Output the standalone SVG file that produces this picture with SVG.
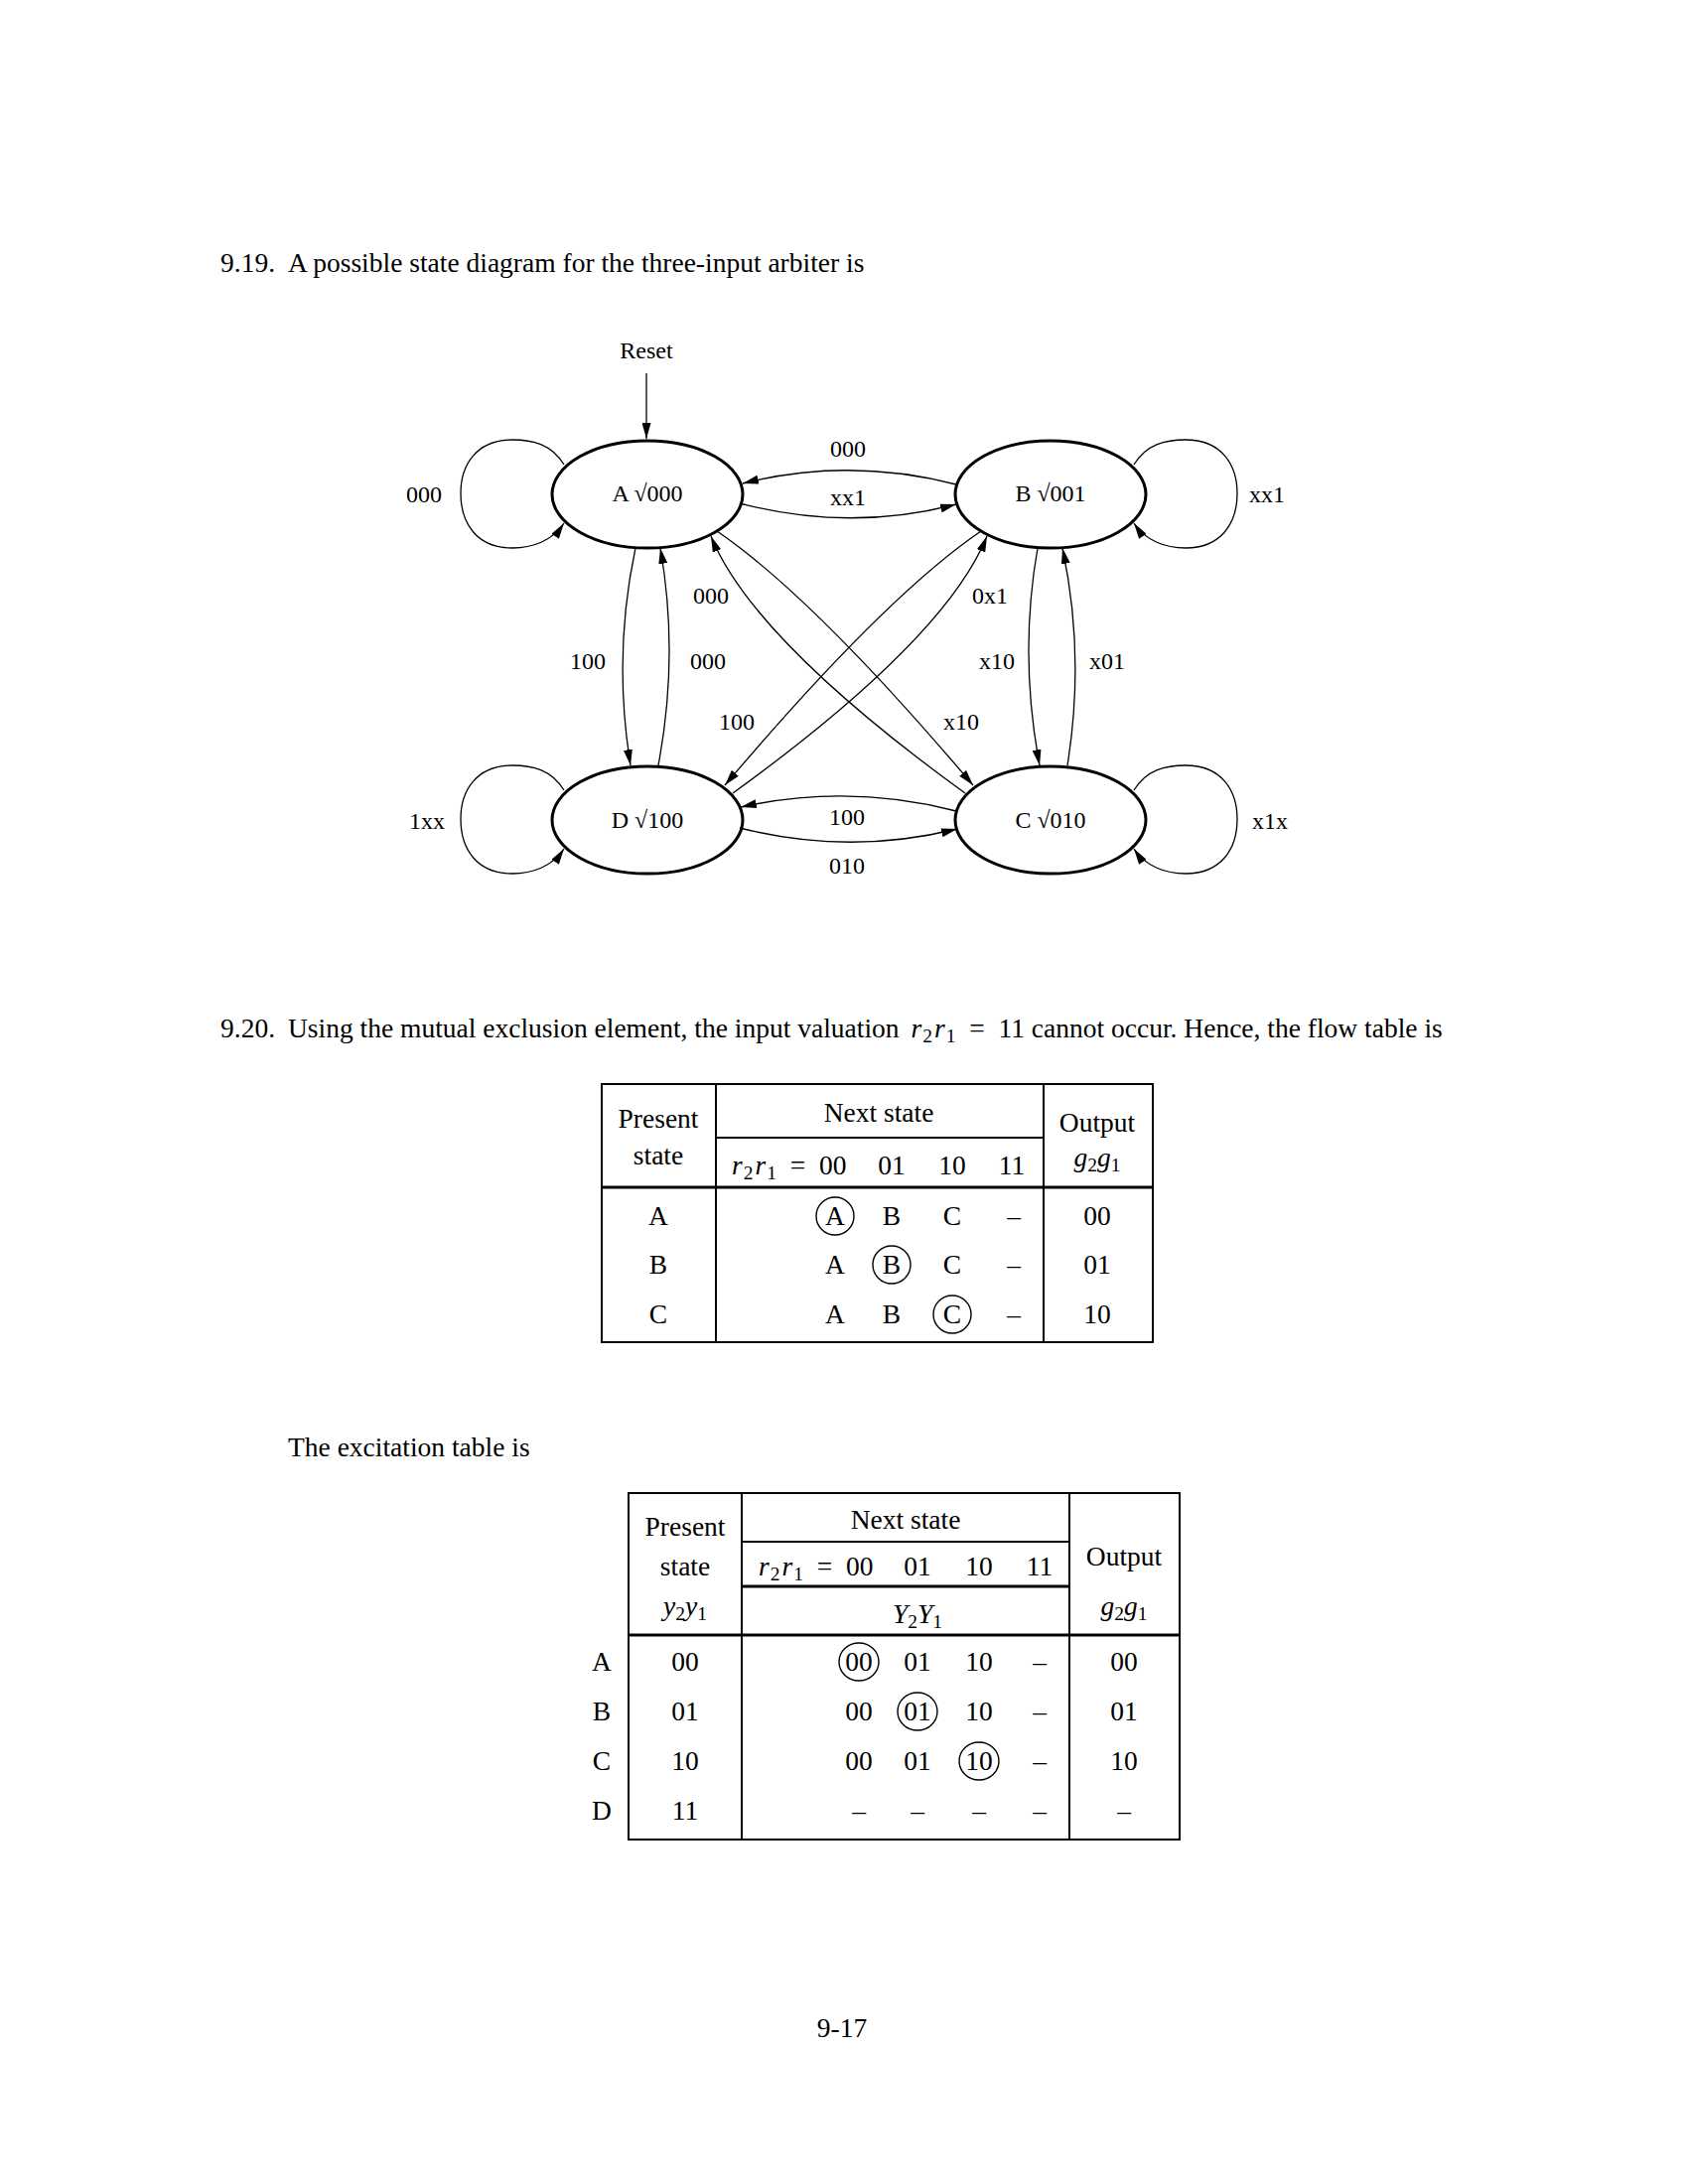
<svg xmlns="http://www.w3.org/2000/svg" width="1700" height="2200" viewBox="0 0 1700 2200">
<style>
.t{font-family:"Liberation Serif","Times New Roman",serif;font-size:27.5px;fill:#000}
.d{font-family:"Liberation Serif","Times New Roman",serif;font-size:24px;fill:#000;text-anchor:middle}
.c{text-anchor:middle}
.i{font-style:italic}
.s{font-size:19.5px}
.node ellipse{fill:none;stroke:#000;stroke-width:3}
.edge{fill:none;stroke:#000;stroke-width:1.3;marker-end:url(#ah)}
.ln{stroke:#000;stroke-width:2;fill:none}
.thk{stroke:#000;stroke-width:3}
.ring{fill:none;stroke:#000;stroke-width:1.4}
</style>
<defs>
<marker id="ah" markerWidth="16" markerHeight="9" refX="16" refY="4.5" orient="auto" markerUnits="userSpaceOnUse"><path d="M0,0 L16,4.5 L0,9 z" fill="#000"/></marker>
</defs>
<rect width="1700" height="2200" fill="#fff"/>

<text class="t" y="274"><tspan x="222">9.19.</tspan><tspan x="290">A possible state diagram for the three-input arbiter is</tspan></text>

<g id="connectors">
<path class="edge" d="M651,376 L651,442"/>
<path class="edge" d="M568,468 C555,447 536,443 516,443 C480,443 464,468 464,497 C464,527 480,552 516,552 C536,552 556,545 568,527"/>
<path class="edge" d="M1142,468 C1155,447 1174,443 1194,443 C1230,443 1246,468 1246,497 C1246,527 1230,552 1194,552 C1174,552 1154,545 1142,527"/>
<path class="edge" d="M568,796 C555,775 536,771 516,771 C480,771 464,796 464,825 C464,855 480,880 516,880 C536,880 556,873 568,855"/>
<path class="edge" d="M1142,796 C1155,775 1174,771 1194,771 C1230,771 1246,796 1246,825 C1246,855 1230,880 1194,880 C1174,880 1154,873 1142,855"/>
<path class="edge" d="M963,488 Q855,460 748,487"/>
<path class="edge" d="M745,507 Q855,536 963,508"/>
<path class="edge" d="M963,817 Q855,789 746,813"/>
<path class="edge" d="M745,834 Q855,862 964,835"/>
<path class="edge" d="M640,552 Q617,660 635,771"/>
<path class="edge" d="M663,771 Q684,660 665,552"/>
<path class="edge" d="M1045,552 Q1026,660 1047,771"/>
<path class="edge" d="M1075,771 Q1093,660 1070,552"/>
<path class="edge" d="M722,535 Q819,601 980,791"/>
<path class="edge" d="M972,799 Q758,644 716,540"/>
<path class="edge" d="M988,535 Q891,601 730,791"/>
<path class="edge" d="M738,799 Q952,644 994,540"/>
</g>

<g id="labels" class="d">
<text x="651" y="361">Reset</text>
<text x="427" y="506">000</text>
<text x="1276" y="506">xx1</text>
<text x="430" y="835">1xx</text>
<text x="1279" y="835">x1x</text>
<text x="854" y="460">000</text>
<text x="854" y="509">xx1</text>
<text x="853" y="831">100</text>
<text x="853" y="880">010</text>
<text x="716" y="608">000</text>
<text x="997" y="608">0x1</text>
<text x="592" y="674">100</text>
<text x="713" y="674">000</text>
<text x="1004" y="674">x10</text>
<text x="1115" y="674">x01</text>
<text x="742" y="735">100</text>
<text x="968" y="735">x10</text>
</g>

<g id="nodeA" class="node"><ellipse cx="652" cy="498" rx="96" ry="54"/><text class="d" x="652" y="505">A √000</text></g>
<g id="nodeB" class="node"><ellipse cx="1058" cy="498" rx="96" ry="54"/><text class="d" x="1058" y="505">B √001</text></g>
<g id="nodeD" class="node"><ellipse cx="652" cy="826" rx="96" ry="54"/><text class="d" x="652" y="834">D √100</text></g>
<g id="nodeC" class="node"><ellipse cx="1058" cy="826" rx="96" ry="54"/><text class="d" x="1058" y="834">C √010</text></g>

<text class="t" y="1045"><tspan x="222">9.20.</tspan><tspan x="290">Using the mutual exclusion element, the input valuation</tspan><tspan class="i" dx="12">r</tspan><tspan class="s" dx="1" dy="5">2</tspan><tspan class="i" dx="2" dy="-5">r</tspan><tspan class="s" dx="1" dy="5">1</tspan><tspan dy="-5">&#8194;=&#8194;11 cannot occur. Hence, the flow table is</tspan></text>

<g id="flowTable">
<rect class="ln" x="606" y="1092" width="555" height="260"/>
<line class="ln" x1="721" y1="1092" x2="721" y2="1352"/>
<line class="ln" x1="1051" y1="1092" x2="1051" y2="1352"/>
<line class="ln" x1="721" y1="1146" x2="1051" y2="1146"/>
<line class="thk" x1="606" y1="1196" x2="1161" y2="1196"/>
<g class="t c">
<text x="663" y="1136">Present</text>
<text x="663" y="1173">state</text>
<text x="885" y="1130">Next state</text>
<text x="1105" y="1140">Output</text>
<text x="1105" y="1175"><tspan class="i">g</tspan><tspan class="s" dy="5">2</tspan><tspan class="i" dy="-5">g</tspan><tspan class="s" dy="5">1</tspan></text>
<text x="898" y="1183">01</text><text x="959" y="1183">10</text><text x="1019" y="1183">11</text>
<text x="663" y="1234">A</text><text x="663" y="1283">B</text><text x="663" y="1333">C</text>
<text x="841" y="1234">A</text><text x="898" y="1234">B</text><text x="959" y="1234">C</text><text x="1021" y="1234">–</text>
<text x="841" y="1283">A</text><text x="898" y="1283">B</text><text x="959" y="1283">C</text><text x="1021" y="1283">–</text>
<text x="841" y="1333">A</text><text x="898" y="1333">B</text><text x="959" y="1333">C</text><text x="1021" y="1333">–</text>
<text x="1105" y="1234">00</text><text x="1105" y="1283">01</text><text x="1105" y="1333">10</text>
</g>
<text class="t" x="737" y="1183"><tspan class="i">r</tspan><tspan class="s" dx="1" dy="5">2</tspan><tspan class="i" dx="2" dy="-5">r</tspan><tspan class="s" dx="1" dy="5">1</tspan><tspan dy="-5">&#8194;=&#8194;00</tspan></text>
<circle class="ring" cx="841" cy="1225" r="19"/>
<circle class="ring" cx="898" cy="1274" r="19"/>
<circle class="ring" cx="959" cy="1324" r="19"/>
</g>

<text class="t" x="290" y="1467">The excitation table is</text>

<g id="excitationTable">
<rect class="ln" x="633" y="1504" width="555" height="349"/>
<line class="ln" x1="747" y1="1504" x2="747" y2="1853"/>
<line class="ln" x1="1077" y1="1504" x2="1077" y2="1853"/>
<line class="ln" x1="747" y1="1553" x2="1077" y2="1553"/>
<line class="thk" x1="747" y1="1598" x2="1077" y2="1598"/>
<line class="thk" x1="633" y1="1647" x2="1188" y2="1647"/>
<g class="t c">
<text x="690" y="1547">Present</text>
<text x="690" y="1587">state</text>
<text x="690" y="1627"><tspan class="i">y</tspan><tspan class="s" dy="5">2</tspan><tspan class="i" dy="-5">y</tspan><tspan class="s" dy="5">1</tspan></text>
<text x="912" y="1540">Next state</text>
<text x="924" y="1587">01</text><text x="986" y="1587">10</text><text x="1047" y="1587">11</text>
<text x="924" y="1635"><tspan class="i">Y</tspan><tspan class="s" dy="5">2</tspan><tspan class="i" dy="-5">Y</tspan><tspan class="s" dy="5">1</tspan></text>
<text x="1132" y="1577">Output</text>
<text x="1132" y="1627"><tspan class="i">g</tspan><tspan class="s" dy="5">2</tspan><tspan class="i" dy="-5">g</tspan><tspan class="s" dy="5">1</tspan></text>
<text x="606" y="1683">A</text><text x="606" y="1733">B</text><text x="606" y="1783">C</text><text x="606" y="1833">D</text>
<text x="690" y="1683">00</text><text x="690" y="1733">01</text><text x="690" y="1783">10</text><text x="690" y="1833">11</text>
<text x="865" y="1683">00</text><text x="924" y="1683">01</text><text x="986" y="1683">10</text><text x="1047" y="1683">–</text>
<text x="865" y="1733">00</text><text x="924" y="1733">01</text><text x="986" y="1733">10</text><text x="1047" y="1733">–</text>
<text x="865" y="1783">00</text><text x="924" y="1783">01</text><text x="986" y="1783">10</text><text x="1047" y="1783">–</text>
<text x="865" y="1833">–</text><text x="924" y="1833">–</text><text x="986" y="1833">–</text><text x="1047" y="1833">–</text>
<text x="1132" y="1683">00</text><text x="1132" y="1733">01</text><text x="1132" y="1783">10</text><text x="1132" y="1833">–</text>
</g>
<text class="t" x="764" y="1587"><tspan class="i">r</tspan><tspan class="s" dx="1" dy="5">2</tspan><tspan class="i" dx="2" dy="-5">r</tspan><tspan class="s" dx="1" dy="5">1</tspan><tspan dy="-5">&#8194;=&#8194;00</tspan></text>
<ellipse class="ring" cx="865" cy="1674" rx="20" ry="19"/>
<ellipse class="ring" cx="924" cy="1724" rx="20" ry="19"/>
<ellipse class="ring" cx="986" cy="1774" rx="20" ry="19"/>
</g>

<text class="t c" x="848" y="2052">9-17</text>
</svg>
